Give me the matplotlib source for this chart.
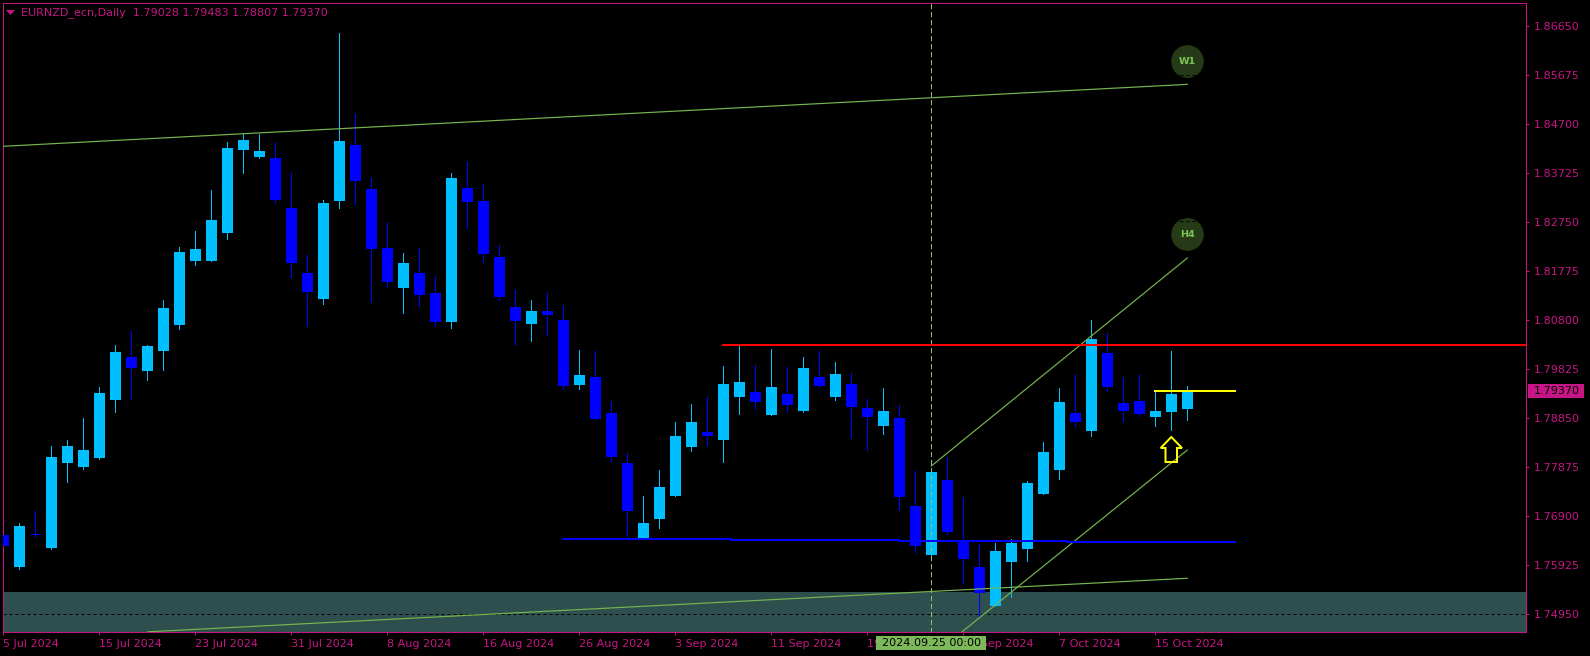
import matplotlib
matplotlib.use("Agg")
import matplotlib.pyplot as plt
from matplotlib.patches import Polygon, Rectangle
import numpy as np

# OHLC, one bar per trading day
opens = [1.76510, 1.75874, 1.76530, 1.76252, 1.77943, 1.77864, 1.78043, 1.79197, 1.80053, 1.79774,
         1.80172, 1.80689, 1.81963, 1.81963, 1.82520, 1.84172, 1.84033, 1.84013, 1.83018, 1.81724,
         1.81207, 1.83157, 1.84271, 1.83396, 1.82222, 1.81426, 1.81724, 1.81326, 1.80749, 1.83416,
         1.83157, 1.82043, 1.81048, 1.80709, 1.80968, 1.80789, 1.79495, 1.79655, 1.78938, 1.77943,
         1.76451, 1.76829, 1.77287, 1.78262, 1.78560, 1.78401, 1.79257, 1.79356, 1.78898, 1.79316,
         1.78978, 1.79655, 1.79257, 1.79515, 1.79038, 1.78680, 1.78839, 1.77088, 1.76112, 1.77605,
         1.76411, 1.75874, 1.75098, 1.75973, 1.76232, 1.77326, 1.77804, 1.78938, 1.78580, 1.80132,
         1.79137, 1.79177, 1.78859, 1.78958, 1.79028]
closes = [1.76292, 1.76690, 1.76510, 1.78063, 1.78282, 1.78202, 1.79336, 1.80152, 1.79834, 1.80272,
          1.81028, 1.82142, 1.82202, 1.82779, 1.84212, 1.84371, 1.84152, 1.83177, 1.81923, 1.81346,
          1.83117, 1.84351, 1.83555, 1.82202, 1.81545, 1.81923, 1.81286, 1.80749, 1.83615, 1.83137,
          1.82102, 1.81247, 1.80769, 1.80968, 1.80888, 1.79476, 1.79694, 1.78819, 1.78063, 1.76988,
          1.76749, 1.77466, 1.78481, 1.78759, 1.78481, 1.79515, 1.79555, 1.79157, 1.79456, 1.79097,
          1.79834, 1.79476, 1.79714, 1.79058, 1.78859, 1.78978, 1.77267, 1.76292, 1.77764, 1.76570,
          1.76033, 1.75356, 1.76192, 1.76351, 1.77545, 1.78162, 1.79157, 1.78759, 1.80411, 1.79456,
          1.78978, 1.78918, 1.78978, 1.79316, 1.79370]
highs = [1.77028, 1.76749, 1.76988, 1.78282, 1.78401, 1.78839, 1.79456, 1.80291, 1.80570, 1.80291,
         1.81187, 1.82242, 1.82560, 1.83376, 1.84331, 1.84490, 1.84490, 1.84331, 1.83734, 1.82082,
         1.83177, 1.86500, 1.84888, 1.83615, 1.82739, 1.82122, 1.82222, 1.81665, 1.83714, 1.83933,
         1.83495, 1.82281, 1.81386, 1.81187, 1.81346, 1.81087, 1.80192, 1.80172, 1.79177, 1.78142,
         1.77287, 1.77804, 1.78759, 1.79117, 1.79257, 1.79874, 1.80272, 1.79893, 1.80212, 1.79854,
         1.80053, 1.80172, 1.79953, 1.79734, 1.79217, 1.79436, 1.79097, 1.77784, 1.77804, 1.78063,
         1.77267, 1.76331, 1.76351, 1.76431, 1.77585, 1.78361, 1.79436, 1.79714, 1.80789, 1.80530,
         1.79655, 1.79714, 1.79356, 1.80172, 1.79483]
lows = [1.76292, 1.75834, 1.76471, 1.76232, 1.77565, 1.77824, 1.78023, 1.78958, 1.79217, 1.79595,
        1.79794, 1.80610, 1.81883, 1.81963, 1.82401, 1.83714, 1.84013, 1.83117, 1.81645, 1.80670,
        1.81107, 1.83018, 1.83097, 1.81147, 1.81446, 1.80928, 1.81068, 1.80670, 1.80630, 1.82620,
        1.81943, 1.81187, 1.80291, 1.80371, 1.80490, 1.79416, 1.79416, 1.78819, 1.77983, 1.76491,
        1.76431, 1.76650, 1.77287, 1.78182, 1.78301, 1.77963, 1.78918, 1.79018, 1.78898, 1.78958,
        1.78958, 1.79456, 1.79197, 1.78441, 1.78202, 1.78520, 1.77008, 1.76172, 1.76093, 1.76530,
        1.75555, 1.74879, 1.75098, 1.75277, 1.75993, 1.77326, 1.77625, 1.78680, 1.78481, 1.79376,
        1.78779, 1.78879, 1.78680, 1.78600, 1.78807]

price_ticks = [1.86650, 1.85675, 1.84700, 1.83725, 1.82750, 1.81775, 1.80800,
               1.79825, 1.78850, 1.77875, 1.76900, 1.75925, 1.74950]
date_ticks = [0, 6, 12, 18, 24, 30, 36, 42, 48, 54, 60, 66, 72]
date_labels = ["5 Jul 2024", "15 Jul 2024", "23 Jul 2024", "31 Jul 2024", "8 Aug 2024",
               "16 Aug 2024", "26 Aug 2024", "3 Sep 2024", "11 Sep 2024", "19 Sep 2024",
               "27 Sep 2024", "7 Oct 2024", "15 Oct 2024"]

# trend lines: bar index and price of both ends
w1_upper_x, w1_upper_y = [-0.05, 74], [1.84246, 1.85479]
w1_lower_x, w1_lower_y = [9.04, 74], [1.74586, 1.75651]
h4_upper_x, h4_upper_y = [58, 74], [1.77884, 1.82023]
h4_lower_x, h4_lower_y = [59.9, 74], [1.74580, 1.78202]
red_x, red_y = [45, 95.2], [1.80297, 1.80297]
blue_x, blue_y = [35, 45.5, 56, 66.5, 77], [1.76437, 1.76411, 1.76391, 1.76371, 1.76371]
yellow_x, yellow_y = [72, 77], [1.79370, 1.79370]
zone_top = 1.75376
dotted_level = 1.74950
cursor_bar = 58
badge_bar = 74
w1_badge, w1_dash = 1.85943, 1.85672
h4_badge, h4_dash = 1.82494, 1.82759

MAGENTA = "#c71585"
GREEN = "#76b54e"
UP = "#00bfff"
DOWN = "#0000ff"
FONT = 8.05
PX = 0.72  # one pixel in points at dpi 100

plt.rcParams["font.family"] = "DejaVu Sans"
fig = plt.figure(figsize=(15.9, 6.56), dpi=100, facecolor="black")
ax = fig.add_axes([2.5 / 1590, (656 - 632.3) / 656, 1523.8 / 1590, 629.8 / 656], facecolor="black")
ax.set_xlim(-0.05, 95.19)
ax.set_ylim(1.74576, 1.87108)

x = np.arange(len(opens))
opens_a, closes_a = np.array(opens), np.array(closes)
colors = [UP if c >= o else DOWN for o, c in zip(opens, closes)]

ax.axhspan(1.7, zone_top, color="#2f4f4f", lw=0, zorder=1)
ax.axhline(dotted_level, color="black", lw=PX, ls=(0, (3, 3)), zorder=1.5)

ax.vlines(x, lows, highs, colors=colors, lw=PX, antialiased=False, zorder=2)
bottoms = np.minimum(opens_a, closes_a)
heights = np.maximum(np.abs(closes_a - opens_a), 0.0002)
ax.bar(x, heights, bottom=bottoms, width=11 / 16, color=colors, lw=0, antialiased=False, zorder=3)

ax.axvline(cursor_bar, color="#8fbf6a", lw=PX, ls=(0, (5, 3)), antialiased=False, zorder=4)

for lx, ly in [(w1_upper_x, w1_upper_y), (w1_lower_x, w1_lower_y), (h4_upper_x, h4_upper_y), (h4_lower_x, h4_lower_y)]:
    ax.plot(lx, ly, color=GREEN, lw=PX * 1.2, zorder=5)

ax.plot(red_x, red_y, color="#ff0000", lw=PX * 2, antialiased=False, zorder=6)
ax.plot(blue_x, blue_y, color=DOWN, lw=PX * 2, drawstyle="steps-post", antialiased=False, zorder=6)
ax.plot(yellow_x, yellow_y, color="#ffff00", lw=PX * 2, antialiased=False, zorder=6)

# W1 / H4 badges
ax.scatter([badge_bar, badge_bar], [w1_badge, h4_badge], s=552, color="#263a18", lw=0, zorder=7)
ax.hlines([w1_dash, h4_dash], badge_bar - 0.45, badge_bar + 0.5, colors="black", lw=PX, ls=(0, (3, 3)), zorder=8)
ax.text(badge_bar, w1_badge, "W1", color="#7cc653", fontsize=6.8, fontweight="bold", ha="center", va="center", zorder=9)
ax.text(badge_bar, h4_badge, "H4", color="#7cc653", fontsize=6.8, fontweight="bold", ha="center", va="center", zorder=9)

ax.yaxis.tick_right()
ax.set_yticks(price_ticks)
ax.set_yticklabels([f"{p:.5f}" for p in price_ticks])
ax.set_xticks(date_ticks)
ax.set_xticklabels(date_labels, ha="left")
ax.tick_params(axis="y", colors=MAGENTA, length=2.2, width=PX, pad=3.0, labelsize=FONT)
ax.tick_params(axis="x", colors=MAGENTA, length=2.2, width=PX, pad=2.8, labelsize=FONT)
for spine in ax.spines.values():
    spine.set_color(MAGENTA)
    spine.set_linewidth(PX)
    spine.set_antialiased(False)

# overlay in pixel coordinates for the terminal furniture
ov = fig.add_axes([0, 0, 1, 1], facecolor="none")
ov.set_xlim(0, 1590)
ov.set_ylim(656, 0)
ov.axis("off")

ov.add_patch(Polygon([(6, 10), (15, 10), (10.5, 15)], color=MAGENTA, lw=0))
ov.text(21, 12.5, "EURNZD_ecn,Daily  1.79028 1.79483 1.78807 1.79370", color=MAGENTA,
        fontsize=FONT, va="center", ha="left")

arrow = [(1171.3, 437), (1182, 448), (1177, 448), (1177, 462), (1165.5, 462), (1165.5, 448), (1160.7, 448)]
ov.add_patch(Polygon(arrow, closed=True, fill=False, edgecolor="#ffff00", lw=PX * 2, joinstyle="miter"))

ov.add_patch(Rectangle((1528, 384), 56, 14, color=MAGENTA, lw=0))
ov.text(1534, 391.5, "1.79370", color="black", fontsize=FONT, va="center", ha="left")

ov.add_patch(Rectangle((876, 636), 110, 14, color="#7db95a", lw=0))
ov.text(931, 643, "2024.09.25 00:00", color="black", fontsize=FONT, va="center", ha="center")

fig.savefig("out.png", dpi=100, facecolor="black")
